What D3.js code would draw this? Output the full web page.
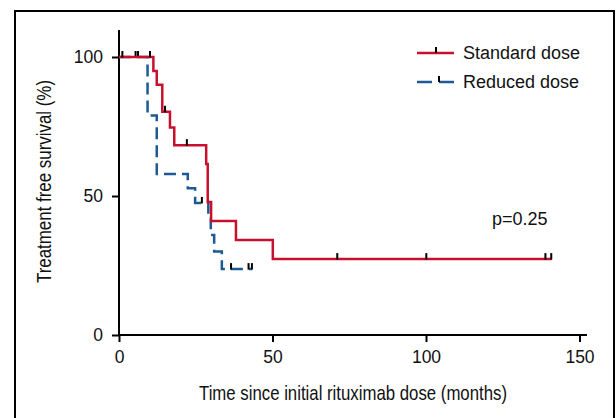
<!DOCTYPE html>
<html>
<head>
<meta charset="utf-8">
<script src="https://cdn.jsdelivr.net/npm/d3@7"></script>
<style>
body { margin: 0; background: #fff; }
svg { display: block; }
</style>
</head>
<body>
<div id="container"></div>
<script>
// Kaplan-Meier steps (months, % survival)
let stdTimes = [0, 11.2, 12.3, 14.1, 16.6, 18.0, 28.4, 28.9, 30.0, 38.1, 50.1, 140.9];
let stdSurv  = [100, 95, 90, 80.3, 74.6, 68.3, 61.5, 47.8, 41, 34.2, 27.3, 27.3];
let stdCensor = [1.1, 10.1, 15.0, 22.1, 71.1, 100.1, 138.9, 140.8];

let redTimes = [0, 9.3, 12.3, 22.4, 24.8, 29.1, 29.9, 31.0, 33.5, 43.3];
let redSurv  = [100, 79, 57.9, 52.8, 47.5, 42, 36, 30, 23.7, 23.7];
let redCensor = [5.4, 6.2, 27.0, 36.5, 42.2, 43.3];

let xTicks = [0, 50, 100, 150];
let yTicks = [0, 50, 100];
let seriesNames = ["Standard dose", "Reduced dose"];
let pText = "p=0.25";

let width = 616, height = 418;
let redColor = "#c8102e", blueColor = "#1d5a94";
let baseFont = "'Liberation Sans', Arial, sans-serif";

let xScale = d3.scaleLinear().domain([0, 150]).range([119, 579.5]);
let yScale = d3.scaleLinear().domain([0, 100]).range([335, 57]);

let svg = d3.select("#container").append("svg")
	.attr("width", width).attr("height", height);

// frame
svg.append("rect")
	.attr("x", 15).attr("y", 11).attr("width", 599).attr("height", 430)
	.attr("fill", "none").attr("stroke", "black").attr("stroke-width", 2);

// axes
let xAxis = svg.append("g")
	.attr("transform", "translate(0," + yScale(0) + ")")
	.call(d3.axisBottom(xScale).tickValues(xTicks).tickSize(7).tickSizeOuter(0).tickPadding(7));
let yAxis = svg.append("g")
	.attr("transform", "translate(" + xScale(0) + ",0)")
	.call(d3.axisLeft(yScale).tickValues(yTicks).tickSize(7).tickSizeOuter(0).tickPadding(9));
[xAxis, yAxis].forEach(function(ax){
	ax.select(".domain").remove();
	ax.selectAll("line").attr("stroke-width", 2);
	ax.selectAll("text").attr("font-family", baseFont).attr("font-size", 17.5).attr("fill", "#111");
});
xAxis.selectAll("text").attr("dy", "0.8em");

svg.append("line")
	.attr("x1", xScale(0)).attr("x2", 587)
	.attr("y1", yScale(0)).attr("y2", yScale(0))
	.attr("stroke", "black").attr("stroke-width", 2);
svg.append("line")
	.attr("x1", xScale(0)).attr("x2", xScale(0))
	.attr("y1", yScale(0) + 1).attr("y2", 30)
	.attr("stroke", "black").attr("stroke-width", 2);

// axis titles (condensed look in the original)
svg.append("text")
	.attr("x", 199).attr("y", 400)
	.attr("textLength", 308).attr("lengthAdjust", "spacingAndGlyphs")
	.attr("font-family", baseFont).attr("font-size", 21).attr("fill", "#111")
	.text("Time since initial rituximab dose (months)");
svg.append("text")
	.attr("transform", "translate(51,283) rotate(-90)")
	.attr("textLength", 203).attr("lengthAdjust", "spacingAndGlyphs")
	.attr("font-family", baseFont).attr("font-size", 21).attr("fill", "#111")
	.text("Treatment free survival (%)");

let step = d3.line()
	.x(d => xScale(d[0]))
	.y(d => yScale(d[1]))
	.curve(d3.curveStepAfter);

function survAt(times, surv, t){
	let v = surv[0];
	for (let i = 0; i < times.length; i++) {
		if (times[i] <= t) v = surv[i];
	}
	return v;
}

function drawCurve(times, surv, censor, color, dash){
	let pts = times.map((t, i) => [t, surv[i]]);
	svg.append("path")
		.attr("d", step(pts))
		.attr("fill", "none")
		.attr("stroke", color)
		.attr("stroke-width", 2.5)
		.attr("stroke-dasharray", dash);
	censor.forEach(function(t){
		let y = yScale(survAt(times, surv, t));
		svg.append("line")
			.attr("x1", xScale(t)).attr("x2", xScale(t))
			.attr("y1", y - 6).attr("y2", y + 0.5)
			.attr("stroke", "black").attr("stroke-width", 2);
	});
}

drawCurve(redTimes, redSurv, redCensor, blueColor, "12,6");
drawCurve(stdTimes, stdSurv, stdCensor, redColor, null);

// legend
let legend = [
	{name: seriesNames[0], color: redColor, dash: null, y: 53, tick: 436},
	{name: seriesNames[1], color: blueColor, dash: "15,7", y: 82, tick: 439}
];
legend.forEach(function(d){
	svg.append("line")
		.attr("x1", 417).attr("x2", 454).attr("y1", d.y).attr("y2", d.y)
		.attr("stroke", d.color).attr("stroke-width", 2.5)
		.attr("stroke-dasharray", d.dash);
	svg.append("line")
		.attr("x1", d.tick).attr("x2", d.tick).attr("y1", d.y - 6).attr("y2", d.y)
		.attr("stroke", "black").attr("stroke-width", 2);
	svg.append("text")
		.attr("x", 463).attr("y", d.y + 6)
		.attr("font-family", baseFont).attr("font-size", 18).attr("fill", "#111")
		.text(d.name);
});

svg.append("text")
	.attr("x", 492).attr("y", 225)
	.attr("font-family", baseFont).attr("font-size", 18).attr("fill", "#111")
	.text(pText);
</script>
</body>
</html>
